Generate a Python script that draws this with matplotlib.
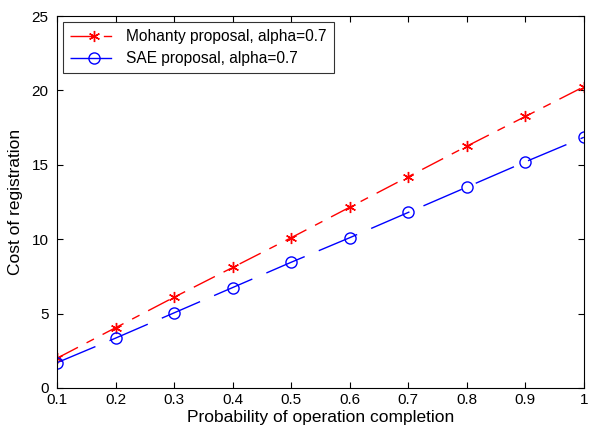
import matplotlib
matplotlib.use("Agg")
import matplotlib.pyplot as plt

x = [0.1, 0.2, 0.3, 0.4, 0.5, 0.6, 0.7, 0.8, 0.9, 1.0]
mohanty = [2.0, 4.05, 6.1, 8.1, 10.1, 12.15, 14.2, 16.25, 18.25, 20.25]
sae = [1.7, 3.35, 5.05, 6.75, 8.45, 10.1, 11.8, 13.5, 15.2, 16.85]
xticks = [0.1, 0.2, 0.3, 0.4, 0.5, 0.6, 0.7, 0.8, 0.9, 1.0]
xticklabels = ["0.1", "0.2", "0.3", "0.4", "0.5", "0.6", "0.7", "0.8", "0.9", "1"]
yticks = [0, 5, 10, 15, 20, 25]

plt.rcParams['font.family'] = ['Liberation Sans', 'DejaVu Sans']
fig = plt.figure(figsize=(5.9, 4.3), dpi=100)
ax = fig.add_axes([0.0966, 0.0977, 0.893, 0.865])

ax.plot(x, mohanty, color='red', linestyle=(0, (17, 7, 6, 7)), linewidth=1.0,
        marker=(6, 2, 0), markersize=8, markeredgewidth=1.0,
        label='Mohanty proposal, alpha=0.7')
ax.plot(x, sae, color='blue', linestyle=(0, (30, 11)), linewidth=1.0,
        marker='o', markersize=8, markerfacecolor='none', markeredgewidth=1.0,
        label='SAE proposal, alpha=0.7')

ax.set_xlim(0.1, 1.0)
ax.set_ylim(0, 25)
ax.set_xticks(xticks)
ax.set_xticklabels(xticklabels)
ax.set_yticks(yticks)
ax.tick_params(direction='in', top=True, right=True, labelsize=11, length=4)
ax.tick_params(axis='y', pad=6)
ax.set_xlabel('Probability of operation completion', fontsize=12.5, labelpad=2)
ax.set_ylabel('Cost of registration', fontsize=12.5, labelpad=6)
leg = ax.legend(loc='upper left', fontsize=11.2, frameon=True, fancybox=False,
                edgecolor='black', borderpad=0.45, handlelength=3.0, labelspacing=0.45,
                handletextpad=0.6, borderaxespad=0.4)
leg.get_frame().set_linewidth(0.8)

fig.savefig('out.png', dpi=100)
